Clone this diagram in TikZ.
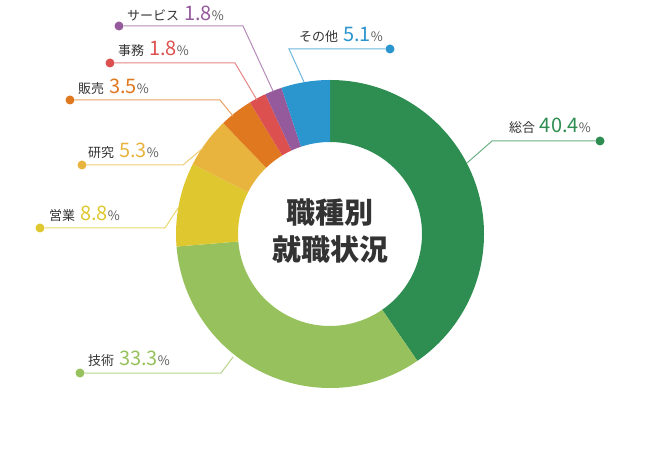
\documentclass[tikz,border=0pt]{standalone}
\usepackage{fontspec}
\setmainfont{Noto Sans CJK JP}
\usepackage{tikz}

\definecolor{sogo}{HTML}{2E8E52}
\definecolor{gijutsu}{HTML}{97C15C}
\definecolor{eigyo}{HTML}{DFC72F}
\definecolor{kenkyu}{HTML}{E8B43E}
\definecolor{hanbai}{HTML}{E07820}
\definecolor{jimu}{HTML}{DD5050}
\definecolor{service}{HTML}{955A9B}
\definecolor{sonota}{HTML}{2B95CD}
\definecolor{txt}{HTML}{333333}

\tikzset{
  dot/.style={circle, fill=#1, inner sep=0pt, minimum size=9pt},
  leader/.style={draw=#1!70, line width=1pt},
  lbl/.style={inner sep=0pt, text=txt, font=\fontsize{13}{13}\selectfont},
}
\newcommand{\pct}[2]{\hspace{2pt}{\fontsize{20}{20}\selectfont\color{#1}#2}{\color{txt!80}\%}}

\begin{document}
\begin{tikzpicture}[x=1pt, y=1pt]
    \useasboundingbox (0, 0) rectangle (660, 452);

    % donut
    \begin{scope}[shift={(330, 218)}]
    \fill[sogo]    (90:154) arc (90:-55.44:154) -- (-55.44:92) arc (-55.44:90:92) -- cycle;
    \fill[gijutsu] (-55.44:154) arc (-55.44:-175.32:154) -- (-175.32:92) arc (-175.32:-55.44:92) -- cycle;
    \fill[eigyo]   (-175.32:154) arc (-175.32:-207:154) -- (-207:92) arc (-207:-175.32:92) -- cycle;
    \fill[kenkyu]  (-207:154) arc (-207:-226.08:154) -- (-226.08:92) arc (-226.08:-207:92) -- cycle;
    \fill[hanbai]  (-226.08:154) arc (-226.08:-238.68:154) -- (-238.68:92) arc (-238.68:-226.08:92) -- cycle;
    \fill[jimu]    (-238.68:154) arc (-238.68:-245.16:154) -- (-245.16:92) arc (-245.16:-238.68:92) -- cycle;
    \fill[service] (-245.16:154) arc (-245.16:-251.64:154) -- (-251.64:92) arc (-251.64:-245.16:92) -- cycle;
    \fill[sonota]  (-251.64:154) arc (-251.64:-270:154) -- (-270:92) arc (-270:-251.64:92) -- cycle;
    \end{scope}

    \node[text=txt, font=\fontsize{29}{37}\selectfont\bfseries, align=center] (title) at (330, 221) {職種別\\就職状況};

    % leaders
    \node[dot=sogo] (dsogo) at (600, 311) {};
    \coordinate (bsogo) at (492, 311);
    \coordinate (esogo) at (467, 289);
    \draw[leader=sogo] (dsogo) -- (bsogo) -- (esogo);
    \node[lbl, anchor=base east] (lsogo) at (591, 319) {総合 \pct{sogo}{40.4}};

    \node[dot=gijutsu] (dgijutsu) at (80, 79) {};
    \coordinate (bgijutsu) at (221, 79);
    \coordinate (egijutsu) at (233, 95);
    \draw[leader=gijutsu] (dgijutsu) -- (bgijutsu) -- (egijutsu);
    \node[lbl, anchor=base west] (lgijutsu) at (88, 86) {技術 \pct{gijutsu}{33.3}};

    \node[dot=eigyo] (deigyo) at (40, 224) {};
    \coordinate (beigyo) at (165, 224);
    \coordinate (eeigyo) at (178, 244);
    \draw[leader=eigyo] (deigyo) -- (beigyo) -- (eeigyo);
    \node[lbl, anchor=base west] (leigyo) at (49, 231) {営業 \pct{eigyo}{8.8}};

    \node[dot=kenkyu] (dkenkyu) at (82, 287) {};
    \coordinate (bkenkyu) at (183, 287);
    \coordinate (ekenkyu) at (203, 304);
    \draw[leader=kenkyu] (dkenkyu) -- (bkenkyu) -- (ekenkyu);
    \node[lbl, anchor=base west] (lkenkyu) at (88, 294) {研究 \pct{kenkyu}{5.3}};

    \node[dot=hanbai] (dhanbai) at (70, 352) {};
    \coordinate (bhanbai) at (220, 352);
    \coordinate (ehanbai) at (233, 336);
    \draw[leader=hanbai] (dhanbai) -- (bhanbai) -- (ehanbai);
    \node[lbl, anchor=base west] (lhanbai) at (78, 358) {販売 \pct{hanbai}{3.5}};

    \node[dot=jimu] (djimu) at (110, 389) {};
    \coordinate (bjimu) at (235, 389);
    \coordinate (ejimu) at (257, 352);
    \draw[leader=jimu] (djimu) -- (bjimu) -- (ejimu);
    \node[lbl, anchor=base west] (ljimu) at (118, 396) {事務 \pct{jimu}{1.8}};

    \node[dot=service] (dservice) at (119, 426) {};
    \coordinate (bservice) at (243, 426);
    \coordinate (eservice) at (273, 361);
    \draw[leader=service] (dservice) -- (bservice) -- (eservice);
    \node[lbl, anchor=base west] (lservice) at (127, 431) {サービス \pct{service}{1.8}};

    \node[dot=sonota] (dsonota) at (390, 403) {};
    \coordinate (bsonota) at (289, 403);
    \coordinate (esonota) at (304, 370);
    \draw[leader=sonota] (dsonota) -- (bsonota) -- (esonota);
    \node[lbl, anchor=base east] (lsonota) at (383, 410) {その他 \pct{sonota}{5.1}};
\end{tikzpicture}
\end{document}
